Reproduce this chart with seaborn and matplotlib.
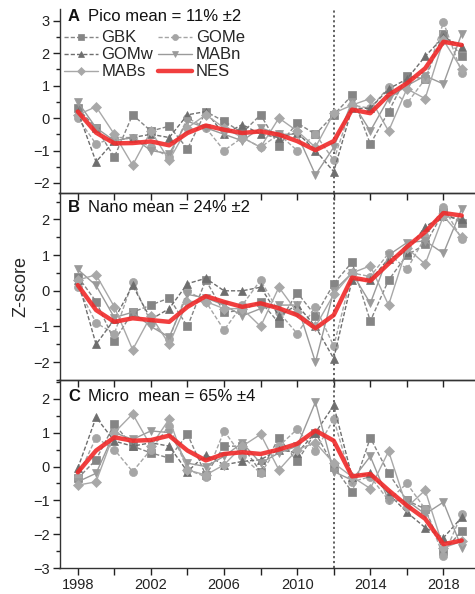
import numpy as np
import pandas as pd
import matplotlib
matplotlib.use("Agg")
import matplotlib.pyplot as plt
import seaborn as sns
from matplotlib.ticker import MultipleLocator, FixedLocator

sns.set_style("ticks")
plt.rcParams['font.family'] = ['Liberation Sans', 'DejaVu Sans']

years = list(range(1998, 2020))
series_names = ["GBK", "GOMe", "GOMw", "MABn", "MABs"]

pico_GBK  = [0.30,-0.30,-1.20,0.10,-0.40,-0.25,-0.95,0.20,-0.10,-0.45,0.10,-0.85,-0.15,-0.50,0.10,0.70,-0.80,0.20,1.30,1.20,2.60,1.90]
pico_GOMe = [0.00,-0.80,-0.60,-0.60,-0.90,-1.20,0.00,-0.30,-1.00,-0.60,-0.90,-0.50,-1.00,-0.50,-1.30,0.40,0.30,0.95,0.45,1.20,2.95,1.40]
pico_GOMw = [0.20,-1.35,-0.70,-0.60,-0.50,-0.60,0.10,0.20,-0.50,-0.20,-0.50,-0.60,-0.45,-1.00,-1.65,0.30,0.30,0.90,1.20,1.90,2.50,2.20]
pico_MABn = [0.50,-0.30,-0.70,-0.60,-1.00,-1.10,-0.10,-0.30,-0.50,-0.70,-0.30,-0.50,-0.50,-1.75,-0.90,0.50,-0.40,0.60,1.00,1.30,1.05,2.60]
pico_MABs = [0.10,0.35,-0.50,-1.45,-0.40,-1.30,-0.30,0.10,-0.30,-0.60,-0.90,0.00,-0.40,-0.90,0.15,0.40,0.60,-0.40,0.90,0.60,2.40,1.50]
pico_NES  = [0.20,-0.45,-0.78,-0.77,-0.72,-0.84,-0.46,-0.23,-0.36,-0.46,-0.41,-0.51,-0.71,-0.99,-0.71,0.26,0.15,0.71,1.07,1.53,2.35,2.25]

nano_GBK  = [0.40,-0.30,-1.40,-0.60,-0.40,-0.20,-1.00,0.30,-0.60,-0.55,-0.30,-0.90,-0.05,-0.70,0.20,0.80,-0.85,0.30,1.00,1.30,2.20,1.90]
nano_GOMe = [0.10,-0.90,-1.20,0.25,-0.90,-1.35,0.00,-0.30,-1.10,-0.40,0.30,-0.60,-1.20,-0.45,-1.55,0.50,0.40,1.05,0.60,1.50,2.35,1.45]
nano_GOMw = [0.30,-1.50,-0.80,0.15,-0.80,-0.50,0.20,0.35,0.00,0.00,0.10,-0.70,-0.40,-1.00,-1.90,0.30,0.30,0.90,1.10,1.80,2.10,2.00]
nano_MABn = [0.60,0.15,-0.75,-0.60,-1.00,-1.30,-0.10,-0.20,-0.40,-0.70,-0.50,-0.40,-0.40,-2.00,0.00,0.50,-0.35,1.00,1.35,1.40,1.05,2.30]
nano_MABs = [0.30,0.45,-0.45,-1.65,-0.70,-1.50,-0.30,-0.30,-0.50,-0.50,-1.00,0.10,-0.60,-1.00,-0.10,0.50,0.70,-0.40,1.20,0.75,2.10,1.50]
nano_NES  = [0.16,-0.54,-0.87,-0.77,-0.82,-0.87,-0.45,-0.15,-0.31,-0.45,-0.35,-0.49,-0.68,-1.05,-0.68,0.37,0.28,0.76,1.23,1.65,2.18,2.11]

micro_GBK  = [-0.35,0.20,1.25,0.60,0.40,0.25,0.95,-0.25,0.60,0.60,-0.15,0.85,0.15,1.00,0.00,-0.75,0.85,-0.20,-1.00,-1.25,-2.50,-1.90]
micro_GOMe = [-0.30,0.85,0.50,-0.15,0.50,1.20,-0.10,-0.30,1.05,0.30,-0.20,0.60,1.10,0.45,1.40,-0.45,-0.30,-1.00,-0.50,-1.25,-2.65,-1.40]
micro_GOMw = [-0.05,1.45,0.75,0.60,0.70,0.60,-0.15,0.35,0.05,0.15,0.20,0.50,0.40,1.00,1.80,-0.30,-0.20,-0.80,-1.35,-1.80,-2.10,-1.50]
micro_MABn = [-0.45,-0.20,1.00,0.80,1.05,1.00,0.10,0.00,0.30,0.70,0.10,0.40,0.60,1.90,-0.15,-0.40,0.30,-1.00,-1.00,-1.40,-1.05,-2.40]
micro_MABs = [-0.55,-0.45,1.00,1.55,0.60,1.40,-0.10,-0.25,0.05,0.60,0.95,-0.10,0.50,0.70,0.10,-0.30,-0.65,0.45,-1.20,-0.70,-2.40,-2.20]
micro_NES  = [-0.17,0.47,0.86,0.76,0.78,0.91,0.47,0.18,0.37,0.42,0.37,0.50,0.67,1.06,0.76,-0.29,-0.22,-0.70,-1.15,-1.54,-2.29,-2.18]

panel_letters = ["A", "B", "C"]
panel_texts = ["Pico mean = 11% \u00b12", "Nano mean = 24% \u00b12", "Micro  mean = 65% \u00b14"]
panel_data = [
    [pico_GBK, pico_GOMe, pico_GOMw, pico_MABn, pico_MABs, pico_NES],
    [nano_GBK, nano_GOMe, nano_GOMw, nano_MABn, nano_MABs, nano_NES],
    [micro_GBK, micro_GOMe, micro_GOMw, micro_MABn, micro_MABs, micro_NES],
]
break_year = 2012

styles = {
    "GBK":  dict(color="#858585", marker="s", ls=(0, (3, 1.5))),
    "GOMe": dict(color="#a5a5a5", marker="o", ls=(0, (3, 1.5))),
    "GOMw": dict(color="#6e6e6e", marker="^", ls=(0, (3, 1.5))),
    "MABn": dict(color="#9a9a9a", marker="v", ls="-"),
    "MABs": dict(color="#a8a8a8", marker="D", ls="-"),
}

fig = plt.figure(figsize=(4.75, 5.94), dpi=100)
ax_l = 59.5 / 475
ax_w = (480 - 59.5) / 475
positions = [
    [ax_l, (594 - 192.7) / 594, ax_w, (192.7 - 9) / 594],
    [ax_l, (594 - 380.0) / 594, ax_w, 187.3 / 594],
    [ax_l, (594 - 568.3) / 594, ax_w, 188.3 / 594],
]
ylims = [(-2.3, 3.36), (-2.5, 2.75), (-3.0, 2.55)]
text_y = [1.0, 0.962, 0.95]

for i, ax_pos in enumerate(positions):
    ax = fig.add_axes(ax_pos)
    data = panel_data[i]
    for j, name in enumerate(series_names):
        st = styles[name]
        sns.lineplot(x=years, y=data[j], ax=ax, color=st["color"], marker=st["marker"],
                     markersize=5.8 if st["marker"] != "D" else 5.2, markeredgewidth=0.5,
                     markeredgecolor=st["color"], linewidth=1.0, linestyle=st["ls"],
                     label=name, legend=False, zorder=3)
    sns.lineplot(x=years, y=data[5], ax=ax, color="#f02a2a", linewidth=3.2, alpha=0.9,
                 label="NES", legend=False, zorder=5, solid_joinstyle="round",
                 solid_capstyle="round")
    ax.axvline(break_year, color="#555555", linestyle=(0, (1.2, 1.5)), linewidth=1.3, zorder=2)
    ax.set_xlim(1997.0, 2020.0)
    ax.set_ylim(*ylims[i])
    ax.xaxis.set_major_locator(FixedLocator([1998, 2002, 2006, 2010, 2014, 2018]))
    ax.xaxis.set_minor_locator(FixedLocator([2000, 2004, 2008, 2012, 2016]))
    ax.yaxis.set_major_locator(MultipleLocator(1))
    ax.yaxis.set_minor_locator(MultipleLocator(0.5))
    ax.tick_params(axis="both", which="major", direction="out", length=5, width=1.0,
                   labelsize=10.5, colors="#222222", pad=2)
    ax.tick_params(axis="x", which="minor", direction="out", length=5, width=1.0, colors="#222222")
    ax.tick_params(axis="y", which="minor", direction="out", length=3, width=1.0, colors="#222222")
    for sp in ax.spines.values():
        sp.set_color("#333333")
        sp.set_linewidth(1.0)
    if i == 0:
        ax.spines["top"].set_visible(False)
    ax.patch.set_alpha(0)
    if i < 2:
        ax.set_xticklabels([])
    ax.set_xlabel("")
    ax.set_ylabel("")
    ax.text(8.5 / 420.5, text_y[i], panel_letters[i], transform=ax.transAxes,
            fontsize=12, fontweight="bold", va="top", ha="left", color="#111111")
    ax.text(28.5 / 420.5, text_y[i], panel_texts[i], transform=ax.transAxes,
            fontsize=12, va="top", ha="left", color="#111111")
    if i == 0:
        h, l = ax.get_legend_handles_labels()
        d = dict(zip(l, h))
        order = ["GBK", "GOMw", "MABs", "GOMe", "MABn", "NES"]
        ax.legend([d[k] for k in order], order, ncol=2, loc="upper left",
                  bbox_to_anchor=(-0.005, 0.92), frameon=False, fontsize=12,
                  handlelength=2.05, columnspacing=0.3, labelspacing=0.12,
                  handletextpad=0.2, borderaxespad=0.0, markerscale=0.75)
    if i == 1:
        ax.set_ylabel("Z-score", fontsize=13, labelpad=3)

fig.savefig("out.png", dpi=100)
